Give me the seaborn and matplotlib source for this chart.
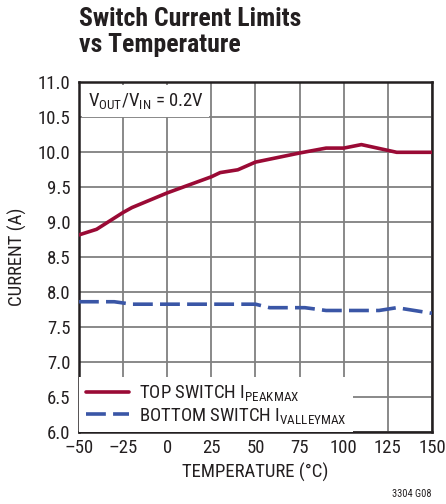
import matplotlib
matplotlib.use("Agg")
import matplotlib.pyplot as plt
import seaborn as sns
import pandas as pd

# data
temp_peak = [-50, -40, -25, -20, 0, 25, 30, 40, 50, 75, 90, 100, 110, 130, 150]
i_peak = [8.82, 8.90, 9.14, 9.21, 9.42, 9.65, 9.71, 9.75, 9.86, 9.99, 10.06, 10.06, 10.11, 10.0, 10.0]
temp_valley = [-50, -30, -20, 50, 58, 78, 90, 120, 130, 150]
i_valley = [7.865, 7.865, 7.83, 7.83, 7.78, 7.78, 7.74, 7.74, 7.78, 7.70]
x_ticks = [-50, -25, 0, 25, 50, 75, 100, 125, 150]
y_ticks = [6.0, 6.5, 7.0, 7.5, 8.0, 8.5, 9.0, 9.5, 10.0, 10.5, 11.0]
label_peak = r"TOP SWITCH I$_{\mathrm{PEAKMAX}}$"
label_valley = r"BOTTOM SWITCH I$_{\mathrm{VALLEYMAX}}$"

sns.set_style("white")
FONT = ["Roboto Condensed", "DejaVu Sans"]
plt.rcParams["font.family"] = FONT
plt.rcParams["mathtext.fontset"] = "custom"
plt.rcParams["mathtext.rm"] = "Roboto Condensed"
plt.rcParams["mathtext.it"] = "Roboto Condensed"
plt.rcParams["axes.unicode_minus"] = True

TXT = "#231f20"
df_peak = pd.DataFrame({"T": temp_peak, "I": i_peak})
df_valley = pd.DataFrame({"T": temp_valley, "I": i_valley})

fig = plt.figure(figsize=(4.46, 5.04), dpi=100)
ax = fig.add_axes([0.177, 0.1423, 0.7916, 0.6944])

red = "#9a0a35"
blue = "#3a56a6"
sns.lineplot(data=df_peak, x="T", y="I", ax=ax, color=red, lw=2.6,
             label=label_peak, zorder=3)
sns.lineplot(data=df_valley, x="T", y="I", ax=ax, color=blue, lw=2.6,
             label=label_valley, zorder=3)
ax.lines[1].set_dashes([5.5, 2.0])

ax.set_xlim(-50, 150)
ax.set_ylim(6.0, 11.0)
ax.set_xticks(x_ticks)
ax.set_yticks(y_ticks)
ax.set_xticklabels([f"{t}".replace("-", "\u2013") for t in x_ticks])
ax.set_yticklabels([f"{v:.1f}" for v in y_ticks])
ax.tick_params(length=0, labelsize=13.5, colors=TXT)
ax.tick_params(axis="x", pad=5)
ax.tick_params(axis="y", pad=6)
ax.grid(True, color="#808080", lw=1.3)
ax.set_axisbelow(True)
for s in ax.spines.values():
    s.set_color(TXT)
    s.set_linewidth(1.8)

ax.set_xlabel("TEMPERATURE (°C)", fontsize=13.5, color=TXT, labelpad=4)
ax.set_ylabel("CURRENT (A)", fontsize=13.5, color=TXT, labelpad=8)

leg = ax.legend(loc="lower left", fontsize=13.5, frameon=True, handlelength=2.3,
                handletextpad=0.55, borderaxespad=0.0, borderpad=0.35,
                labelspacing=0.12, fancybox=False)
leg.get_frame().set_facecolor("white")
leg.get_frame().set_edgecolor("none")
leg.get_frame().set_alpha(1.0)
for t in leg.get_texts():
    t.set_color(TXT)

ax.text(0.025, 0.975, r"V$_{\mathrm{OUT}}$/V$_{\mathrm{IN}}$ = 0.2V", transform=ax.transAxes,
        fontsize=13.5, color=TXT, va="top", ha="left", zorder=4,
        bbox=dict(facecolor="white", edgecolor="none", pad=4))

fig.text(79 / 446, 1 - 7 / 504, "Switch Current Limits\nvs Temperature", fontsize=18.5,
         fontweight="bold", color=TXT, va="top", ha="left", linespacing=1.08)
fig.text(431 / 446, 1 - 494 / 504, "3304 G08", fontsize=7.5, color=TXT,
         ha="right", va="center")

fig.savefig("out.png", dpi=100)
